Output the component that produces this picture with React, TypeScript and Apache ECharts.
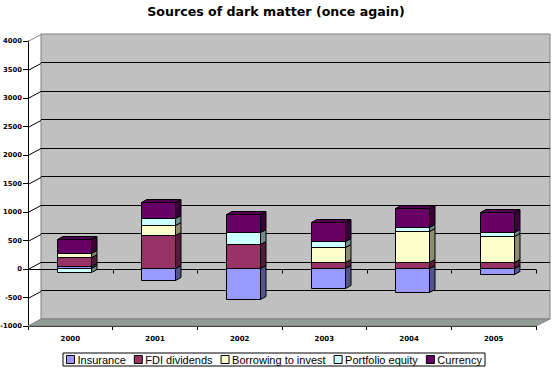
import React, { useEffect, useRef } from "react";
import * as echarts from "echarts";

const years = ["2000", "2001", "2002", "2003", "2004", "2005"];
const seriesNames = ["Insurance", "FDI dividends", "Borrowing to invest", "Portfolio equity", "Currency"];
const insurance = [25, -228, -556, -351, -426, -120];
const fdiDividends = [160, 568, 421, 105, 95, 100];
const borrowingToInvest = [70, 175, 0, 251, 549, 444];
const portfolioEquity = [-75, 133, 204, 117, 58, 75];
const currency = [250, 280, 310, 333, 340, 363];
const yTicks = [-1000, -500, 0, 500, 1000, 1500, 2000, 2500, 3000, 3500, 4000];
const colors = ["#9999FF", "#993366", "#FFFFCC", "#CCFFFF", "#660066"];

const Y_MIN = -1000;
const Y_MAX = 4000;
const Y_INT = 500;

// 3D look constants (styling)
const WALL_DX = 13;
const WALL_DY = -7;
const BAR_DX = 3.4;
const BAR_DY = -1.5;
const BAR_W = 34;
const SIDE_DX = 5.5;
const SIDE_DY = -3;

function shade(hex: string, f: number) {
  const n = parseInt(hex.slice(1), 16);
  const r = Math.round(((n >> 16) & 255) * f);
  const g = Math.round(((n >> 8) & 255) * f);
  const b = Math.round((n & 255) * f);
  return `rgb(${r},${g},${b})`;
}

function buildStacks(all: number[][]) {
  const out: number[][][] = all.map(() => []);
  for (let c = 0; c < years.length; c++) {
    let pos = 0;
    let neg = 0;
    let posTotal = 0;
    all.forEach((arr) => {
      if (arr[c] > 0) posTotal += arr[c];
    });
    all.forEach((arr, s) => {
      const v = arr[c];
      if (v >= 0) {
        const top = pos + v;
        out[s].push([c, pos, top, v > 0 && Math.abs(top - posTotal) < 1e-9 ? 1 : 0]);
        pos = top;
      } else {
        out[s].push([c, neg + v, neg, 0]);
        neg = neg + v;
      }
    });
  }
  return out;
}

export default function App() {
  const ref = useRef<HTMLDivElement>(null);
  useEffect(() => {
    if (!ref.current) return;
    const chart = echarts.init(ref.current, null, { renderer: "svg" });
    const stacks = buildStacks([insurance, fdiDividends, borrowingToInvest, portfolioEquity, currency]);

    const barSeries = seriesNames.map((name, s) => ({
      type: "custom",
      name,
      xAxisIndex: 0,
      yAxisIndex: 0,
      z: 5,
      silent: true,
      itemStyle: { color: colors[s] },
      encode: { x: 0, y: [1, 2] },
      data: stacks[s],
      renderItem: (params: any, api: any) => {
        const cat = api.value(0);
        const base = api.value(1);
        const top = api.value(2);
        const isTop = api.value(3);
        if (base === top) return null;
        const p0 = api.coord([cat, base]);
        const p1 = api.coord([cat, top]);
        const xl = Math.round(p0[0] - BAR_W / 2 + BAR_DX) + 0.5;
        const xr = xl + BAR_W;
        const yt = Math.round(Math.min(p0[1], p1[1]) + BAR_DY) + 0.5;
        const yb = Math.round(Math.max(p0[1], p1[1]) + BAR_DY) + 0.5;
        const col = colors[s];
        const children: any[] = [
          {
            type: "polygon",
            shape: {
              points: [
                [xr, yt],
                [xr + SIDE_DX, yt + SIDE_DY],
                [xr + SIDE_DX, yb + SIDE_DY],
                [xr, yb],
              ],
            },
            style: { fill: shade(col, 0.55), stroke: "#000", lineWidth: 1 },
          },
        ];
        if (isTop) {
          children.push({
            type: "polygon",
            shape: {
              points: [
                [xl, yt],
                [xl + SIDE_DX, yt + SIDE_DY],
                [xr + SIDE_DX, yt + SIDE_DY],
                [xr, yt],
              ],
            },
            style: { fill: shade(col, 0.8), stroke: "#000", lineWidth: 1 },
          });
        }
        children.push({
          type: "rect",
          shape: { x: xl, y: yt, width: BAR_W, height: yb - yt },
          style: { fill: col, stroke: "#000", lineWidth: 1 },
        });
        return { type: "group", children };
      },
    }));

    const decor = {
      type: "custom",
      name: "__decor",
      xAxisIndex: 0,
      yAxisIndex: 0,
      z: 1,
      silent: true,
      encode: { x: 0, y: 1 },
      data: [[0, 0]],
      renderItem: (params: any, api: any) => {
        const cs = params.coordSys;
        const x0 = cs.x;
        const x1 = cs.x + cs.width;
        const yB = cs.y + cs.height;
        const children: any[] = [];
        children.push({
          type: "polygon",
          shape: {
            points: [
              [x0, yB],
              [x1, yB],
              [x1 + WALL_DX + 1, yB + WALL_DY],
              [x0 + WALL_DX, yB + WALL_DY],
            ],
          },
          style: { fill: "#949C96", stroke: "#808080", lineWidth: 1 },
        });
        yTicks.forEach((v, i) => {
          const y = Math.round(api.coord([0, v])[1]) + 0.5;
          if (i === 0) return;
          children.push({
            type: "line",
            shape: { x1: x0, y1: y, x2: x0 + WALL_DX, y2: y + WALL_DY },
            style: { stroke: i === yTicks.length - 1 ? "#808080" : "#000", lineWidth: 1 },
          });
        });
        const yz = Math.round(api.coord([0, 0])[1]) + 0.5;
        children.push({
          type: "line",
          shape: { x1: x0, y1: yz, x2: x1, y2: yz },
          style: { stroke: "#000", lineWidth: 1 },
        });
        for (let i = 0; i <= years.length; i++) {
          const x = Math.round(x0 + (i * cs.width) / years.length) + 0.5;
          children.push({
            type: "line",
            shape: { x1: x, y1: yz, x2: x, y2: yz + 4 },
            style: { stroke: "#000", lineWidth: 1 },
          });
        }
        return { type: "group", children };
      },
    };

    chart.setOption({
      animation: false,
      backgroundColor: "#FFFFFF",
      title: {
        text: "Sources of dark matter (once again)",
        left: "center",
        top: 0,
        textStyle: { fontFamily: "DejaVu Sans", fontSize: 12.6, fontWeight: "bold", color: "#000" },
      },
      legend: {
        data: seriesNames,
        left: 63,
        top: 353,
        orient: "horizontal",
        itemWidth: 8,
        itemHeight: 8,
        itemGap: 8,
        padding: [1, 3],
        borderColor: "#000",
        borderWidth: 1,
        icon: "rect",
        itemStyle: { borderColor: "#000", borderWidth: 1 },
        textStyle: { fontFamily: "Liberation Sans", fontSize: 11, color: "#000", padding: [0, 0, 0, -2] },
        selectedMode: false,
      },
      grid: [
        { left: 28, right: 16, top: 41, bottom: 44, containLabel: false, outerBoundsMode: "none" },
        {
          left: 41,
          right: 2,
          top: 34,
          bottom: 51,
          show: true,
          backgroundColor: "#C0C0C0",
          borderColor: "#808080",
          borderWidth: 1,
          z: 0,
          containLabel: false,
          outerBoundsMode: "none",
        },
      ],
      xAxis: [
        {
          type: "category",
          gridIndex: 0,
          data: years,
          position: "bottom",
          boundaryGap: true,
          axisLine: { onZero: false, lineStyle: { color: "#000", width: 1 } },
          axisTick: { show: true, length: 4, lineStyle: { color: "#000" } },
          axisLabel: {
            margin: 9,
            fontFamily: "DejaVu Sans",
            fontSize: 7,
            fontWeight: "bold",
            color: "#000",
          },
          splitLine: { show: false },
        },
        {
          type: "category",
          gridIndex: 1,
          data: years,
          show: false,
        },
      ],
      yAxis: [
        {
          type: "value",
          gridIndex: 0,
          min: Y_MIN,
          max: Y_MAX,
          interval: Y_INT,
          axisLine: { show: true, lineStyle: { color: "#000", width: 1 } },
          axisTick: { show: true, length: 5, lineStyle: { color: "#000" } },
          axisLabel: {
            margin: 6,
            fontFamily: "DejaVu Sans",
            fontSize: 6.8,
            fontWeight: "bold",
            color: "#000",
            formatter: (v: number) => String(v),
          },
          splitLine: { show: false },
        },
        {
          type: "value",
          gridIndex: 1,
          min: Y_MIN,
          max: Y_MAX,
          interval: Y_INT,
          axisLine: { show: false },
          axisTick: { show: false },
          axisLabel: { show: false },
          splitLine: {
            show: true,
            showMinLine: false,
            showMaxLine: false,
            lineStyle: { color: "#000", width: 1 },
          },
        },
      ],
      series: [decor, ...barSeries],
    });
    return () => chart.dispose();
  }, []);
  return (
    <div
      ref={ref}
      style={{ position: "fixed", left: 0, top: 0, width: 552, height: 370, background: "#fff" }}
    />
  );
}
